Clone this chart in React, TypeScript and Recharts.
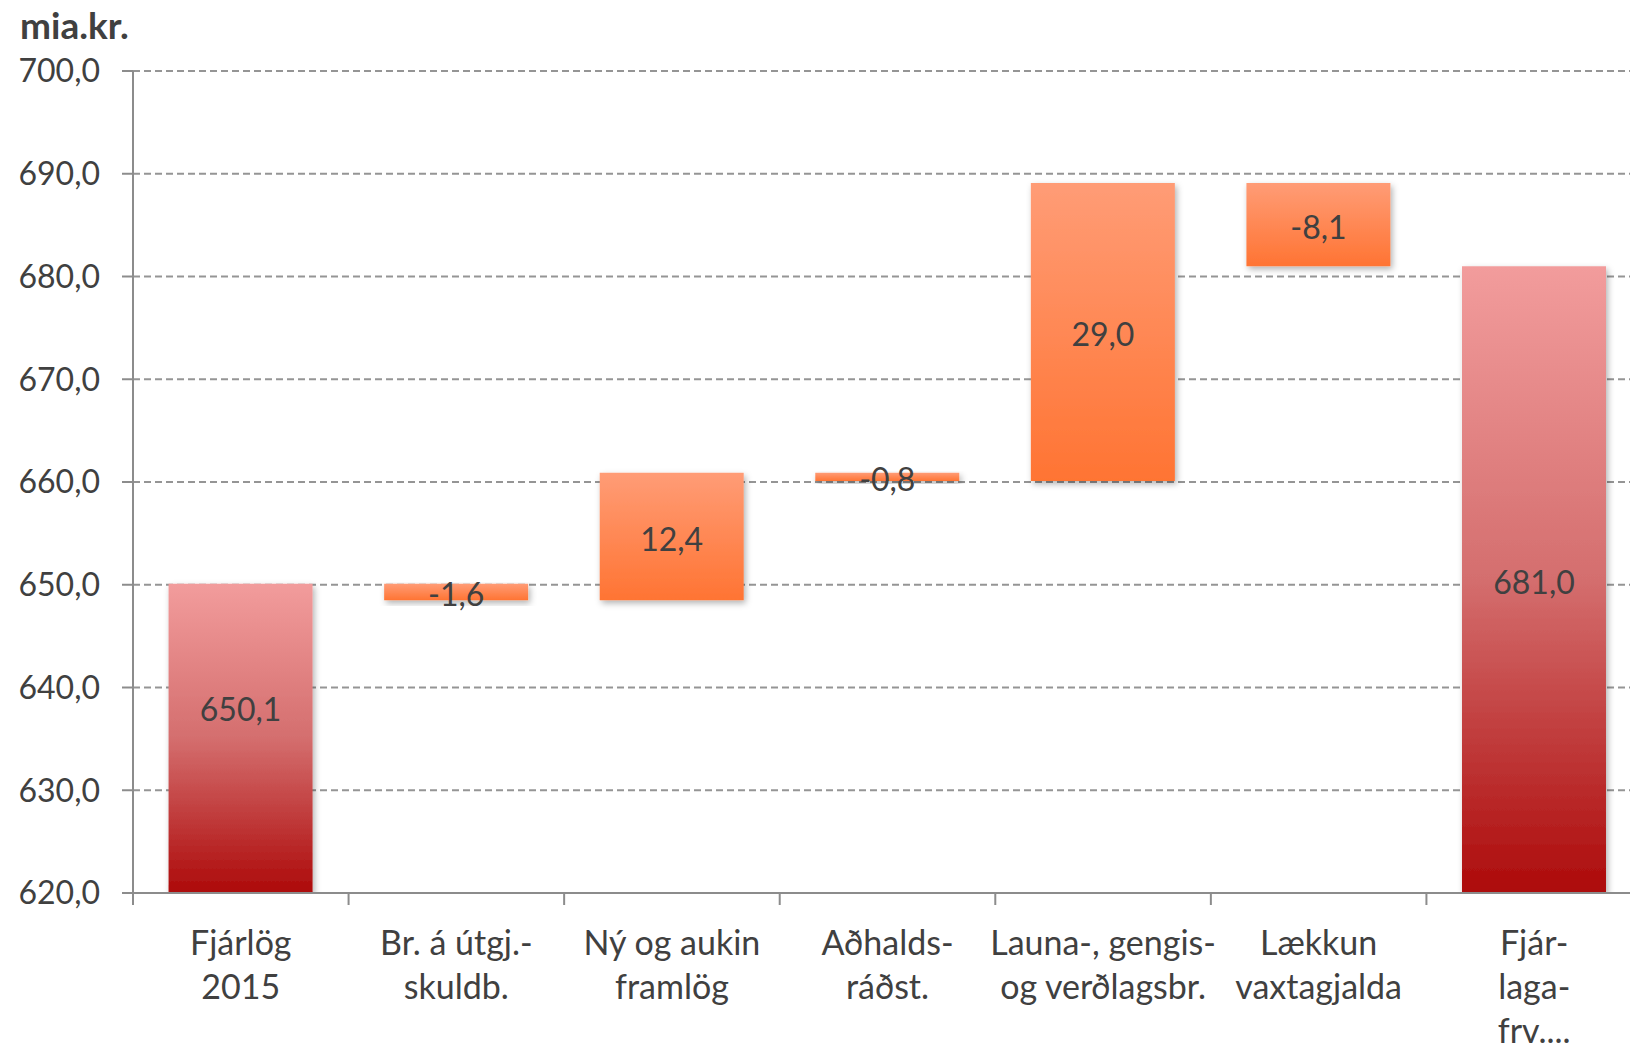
import React from "react"
import { BarChart, Bar, XAxis, YAxis, CartesianGrid, Cell, LabelList } from "recharts"

const CATEGORIES = [
  "Fjárlög\n2015",
  "Br. á útgj.-\nskuldb.",
  "Ný og aukin\nframlög",
  "Aðhalds-\nráðst.",
  "Launa-, gengis-\nog verðlagsbr.",
  "Lækkun\nvaxtagjalda",
  "Fjár-\nlaga-\nfrv....",
]
const VALUES = [650.1, -1.6, 12.4, -0.8, 29.0, -8.1, 681.0]
const KINDS = ["total", "delta", "delta", "delta", "delta", "delta", "total"]
const Y_MIN = 620
const Y_MAX = 700
const Y_TICKS = [620, 630, 640, 650, 660, 670, 680, 690, 700]

const W = 1630
const H = 1047
const LEFT = 133
const RIGHT = -12
const BAND = (W - LEFT - RIGHT) / CATEGORIES.length

const TEXT = "#404040"
const AXIS = "#8c8c8c"
const FONT = "Lato, 'Open Sans', sans-serif"

const fmt = (v: number) => v.toFixed(1).replace(".", ",")

// running total -> floating ranges for the waterfall
let running = 0
const data = CATEGORIES.map((name, i) => {
  const v = VALUES[i]
  let range: [number, number]
  if (KINDS[i] === "total") {
    range = [Y_MIN, v]
    running = v
  } else {
    const start = running
    running = Math.round((running + v) * 10) / 10
    range = [Math.min(start, running), Math.max(start, running)]
  }
  return { name, range, kind: KINDS[i], label: fmt(v) }
})

function CategoryTick(props: any) {
  const { x, y, payload, index } = props
  const lines = String(payload.value).split("\n")
  const left = x - BAND / 2
  return (
    <g>
      <line x1={left} x2={left} y1={y - 12} y2={y} stroke={AXIS} strokeWidth={2} />
      {index === CATEGORIES.length - 1 && (
        <line x1={x + BAND / 2} x2={x + BAND / 2} y1={y - 12} y2={y} stroke={AXIS} strokeWidth={2} />
      )}
      <text x={x} y={y} textAnchor="middle" fill={TEXT} fontSize={34} fontFamily={FONT}>
        {lines.map((l, i) => (
          <tspan key={i} x={x} dy={i === 0 ? 50 : 44}>
            {l}
          </tspan>
        ))}
      </text>
    </g>
  )
}

function BarLabel(props: any) {
  const { x, y, width, height, value, index } = props
  // the first total's label sits a little above its bar's middle in the original
  const shift = index === 0 ? -29 : 3
  return (
    <text
      x={x + width / 2}
      y={y + height / 2 + shift}
      dy="0.355em"
      textAnchor="middle"
      fill={TEXT}
      fontSize={32}
      fontFamily={FONT}
    >
      {value}
    </text>
  )
}

export default function App() {
  return (
    <div style={{ position: "absolute", left: 0, top: 0, width: W, height: H, background: "#fff", overflow: "hidden" }}>
      <div
        style={{
          position: "absolute",
          left: 20,
          top: 3,
          fontFamily: FONT,
          fontWeight: "bold",
          fontSize: 37,
          color: TEXT,
          lineHeight: "44px",
        }}
      >
        mia.kr.
      </div>
      <BarChart
        width={W}
        height={H}
        data={data}
        margin={{ top: 71, right: RIGHT, bottom: 0, left: 0 }}
        barCategoryGap="16.5%"
      >
        <defs>
          <linearGradient id="gradTotal" x1="0" y1="0" x2="0" y2="1">
            <stop offset="0%" stopColor="#f29c9c" />
            <stop offset="50%" stopColor="#d46e6e" />
            <stop offset="100%" stopColor="#ad0a0a" />
          </linearGradient>
          <linearGradient id="gradDelta" x1="0" y1="0" x2="0" y2="1">
            <stop offset="0%" stopColor="#ff9c76" />
            <stop offset="100%" stopColor="#ff7433" />
          </linearGradient>
          <filter id="shadow" x="-10%" y="-10%" width="130%" height="140%">
            <feDropShadow dx={2} dy={3} stdDeviation={3} floodColor="#000" floodOpacity={0.3} />
          </filter>
        </defs>
        <CartesianGrid
          vertical={false}
          stroke="#959595"
          strokeWidth={2}
          strokeDasharray="7 4"
        />
        <XAxis
          dataKey="name"
          interval={0}
          tickLine={false}
          tickSize={12}
          tickMargin={0}
          axisLine={{ stroke: AXIS, strokeWidth: 2 }}
          height={154}
          tick={<CategoryTick />}
        />
        <YAxis
          domain={[Y_MIN, Y_MAX]}
          ticks={Y_TICKS}
          allowDataOverflow
          width={LEFT}
          tickSize={11}
          tickMargin={22}
          tickLine={{ stroke: AXIS, strokeWidth: 2 }}
          axisLine={{ stroke: AXIS, strokeWidth: 2 }}
          tickFormatter={fmt}
          tick={{ fill: TEXT, fontSize: 32, fontFamily: FONT }}
        />
        <Bar dataKey="range" isAnimationActive={false}>
          {data.map((d, i) => (
            <Cell
              key={i}
              fill={d.kind === "total" ? "url(#gradTotal)" : "url(#gradDelta)"}
              filter="url(#shadow)"
            />
          ))}
          <LabelList dataKey="label" content={<BarLabel />} />
        </Bar>
      </BarChart>
    </div>
  )
}
